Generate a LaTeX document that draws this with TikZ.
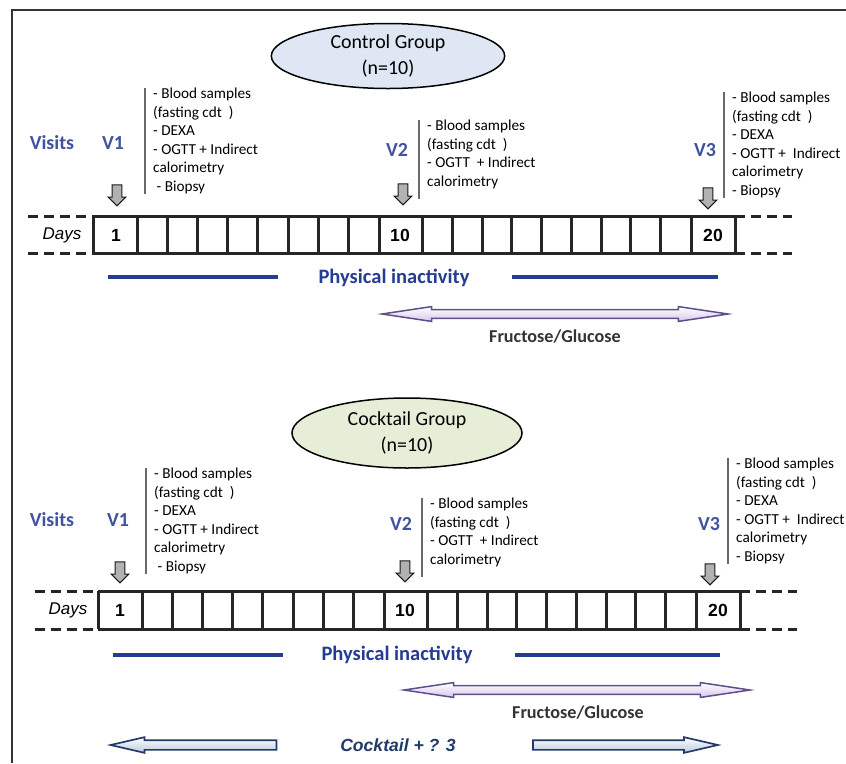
\documentclass[tikz,border=0pt]{standalone}
\usepackage{fontspec}
\setmainfont{Carlito}
\newfontfamily\arialfont{Liberation Sans}
\usepackage{tikz}
\usetikzlibrary{positioning,shapes.geometric,shapes.arrows,calc}
\definecolor{visitblue}{RGB}{64,82,160}
\definecolor{lazyblue}{RGB}{36,60,145}
\definecolor{sugarline}{RGB}{96,78,140}
\definecolor{sugarfill}{RGB}{214,200,236}
\definecolor{mixline}{RGB}{34,58,104}
\definecolor{mixfill}{RGB}{186,200,222}
\definecolor{ctrlfill}{RGB}{222,231,243}
\definecolor{cockfill}{RGB}{231,238,216}
\definecolor{bargray}{RGB}{105,105,105}
\tikzset{
  group/.style={ellipse,draw=black,line width=0.45mm,minimum width=70mm,minimum height=19.5mm,align=center,font=\fontsize{17}{22}\selectfont,inner sep=0pt},
  visitlbl/.style={text=visitblue,font=\fontsize{17}{20}\selectfont\bfseries},
  checklist/.style={anchor=north west,align=left,inner sep=0pt,font=\fontsize{13}{15.8}\selectfont},
  listbar/.style={draw=bargray,line width=0.5mm},
  downarrow/.style={single arrow,shape border rotate=270,draw=black!90,fill=gray!60,line width=0.3mm,minimum height=6.3mm,inner sep=1.3mm,single arrow head extend=1.2mm,single arrow tip angle=90},
  dayline/.style={line width=0.9mm,black!85},
  daygap/.style={line width=0.9mm,black!85,dash pattern=on 3mm off 1.8mm},
  dayname/.style={font=\arialfont\fontsize{14.5}{16}\selectfont\itshape},
  daynum/.style={font=\arialfont\fontsize{15}{16}\selectfont\bfseries},
  inactive/.style={draw=lazyblue,line width=1.2mm},
  inactlbl/.style={text=lazyblue,font=\fontsize{17.5}{20}\selectfont\bfseries},
  sugar/.style={double arrow,draw=sugarline,line width=0.45mm,top color=white,bottom color=sugarfill,inner sep=1.1mm,double arrow head extend=0.9mm,double arrow tip angle=17,minimum height=103.8mm},
  sugarlbl/.style={text=black!80,font=\fontsize{15.5}{18}\selectfont\bfseries},
  mix/.style={single arrow,draw=mixline,line width=0.5mm,top color=white,bottom color=mixfill,inner sep=1.2mm,single arrow head extend=0.9mm,single arrow tip angle=26},
  mixlbl/.style={text=mixline,font=\arialfont\fontsize{15}{18}\selectfont\bfseries\itshape}
}
\begin{document}
\begin{tikzpicture}[x=0.3mm,y=-0.3mm]
  \useasboundingbox (0,0) rectangle (846,763);
  \draw[line width=0.45mm,black!80] (12,763) -- (12,10) -- (846,10);

  % control group
  \node[group,fill=ctrlfill] (ctrl) at (388,56) {Control Group\\(n=10)};
  \node[visitlbl] (visitsA) at (52,143) {Visits};
  \node[visitlbl] (vA1) at (113,143) {V1};
  \node[visitlbl] (vA2) at (397,150) {V2};
  \node[visitlbl] (vA3) at (705,150) {V3};
  \node[checklist] (listA1) at (153,88) {- Blood samples\\(fasting cdt\ \ )\\- DEXA\\- OGTT + Indirect\\calorimetry\\\ - Biopsy};
  \node[checklist] (listA2) at (427,120) {- Blood samples\\(fasting cdt\ \ )\\- OGTT\ \ + Indirect\\calorimetry};
  \node[checklist] (listA3) at (732,92) {- Blood samples\\(fasting cdt\ \ )\\- DEXA\\- OGTT +\ \ Indirect\\calorimetry\\- Biopsy};
  \draw[listbar] ([xshift=-2.4mm]listA1.north west) -- ([xshift=-2.4mm]listA1.south west);
  \draw[listbar] ([xshift=-2.4mm]listA2.north west) -- ([xshift=-2.4mm,yshift=-3mm]listA2.south west);
  \draw[listbar] ([xshift=-2.4mm]listA3.north west) -- ([xshift=-2.4mm]listA3.south west);
  \node[downarrow] (arrA1) at (117,193) {};
  \node[downarrow] (arrA2) at (403,192) {};
  \node[downarrow] (arrA3) at (708,196) {};

  \draw[daygap] (28,216) -- (93,216);
  \draw[daygap] (28,253) -- (93,253);
  \draw[daygap] (735,216) -- (792,216);
  \draw[daygap] (735,253) -- (792,253);
  \draw[dayline] (93,216) -- (735,216);
  \draw[dayline] (93,253) -- (735,253);
  \foreach \x in {93,137,167,197,227,257,288,318,348,379,422,452,482,511,541,571,601,630,660,691,735}
    \draw[dayline] (\x,216) -- (\x,253);
  \node[dayname] (daysA) at (62,235) {Days};
  \node[daynum] (dA1) at (116,235) {1};
  \node[daynum] (dA10) at (400,235) {10};
  \node[daynum] (dA20) at (713,235) {20};

  \node[inactlbl] (lazyA) at (394,278) {Physical inactivity};
  \coordinate (lazyA1) at (108,277);
  \coordinate (lazyA2) at (278,277);
  \coordinate (lazyA3) at (512,277);
  \coordinate (lazyA4) at (718,277);
  \draw[inactive] (lazyA1) -- (lazyA2);
  \draw[inactive] (lazyA3) -- (lazyA4);
  \node[sugar] (sugarA) at (555,314) {};
  \node[sugarlbl] (sugarlblA) at (555,337) {Fructose/Glucose};

  % cocktail group
  \node[group,fill=cockfill,minimum width=69mm,minimum height=21mm] (cock) at (407,433) {Cocktail Group\\(n=10)};
  \node[visitlbl] (visitsB) at (52,520) {Visits};
  \node[visitlbl] (vB1) at (118,520) {V1};
  \node[visitlbl] (vB2) at (401,524) {V2};
  \node[visitlbl] (vB3) at (709,524) {V3};
  \node[checklist] (listB1) at (154,468) {- Blood samples\\(fasting cdt\ \ )\\- DEXA\\- OGTT + Indirect\\calorimetry\\\ - Biopsy};
  \node[checklist] (listB2) at (430,498) {- Blood samples\\(fasting cdt\ \ )\\- OGTT\ \ + Indirect\\calorimetry};
  \node[checklist] (listB3) at (736,458) {- Blood samples\\(fasting cdt\ \ )\\- DEXA\\- OGTT +\ \ Indirect\\calorimetry\\- Biopsy};
  \draw[listbar] ([xshift=-2.4mm]listB1.north west) -- ([xshift=-2.4mm]listB1.south west);
  \draw[listbar] ([xshift=-2.4mm]listB2.north west) -- ([xshift=-2.4mm,yshift=-3mm]listB2.south west);
  \draw[listbar] ([xshift=-2.4mm]listB3.north west) -- ([xshift=-2.4mm]listB3.south west);
  \node[downarrow] (arrB1) at (120,570) {};
  \node[downarrow] (arrB2) at (405,569) {};
  \node[downarrow] (arrB3) at (710,572) {};

  \draw[daygap] (35,591) -- (98,591);
  \draw[daygap] (35,629) -- (98,629);
  \draw[daygap] (740,591) -- (797,591);
  \draw[daygap] (740,629) -- (797,629);
  \draw[dayline] (98,591) -- (740,591);
  \draw[dayline] (98,629) -- (740,629);
  \foreach \x in {98,142,172,202,232,262,293,323,353,384,427,457,487,516,546,576,606,635,665,696,740}
    \draw[dayline] (\x,591) -- (\x,629);
  \node[dayname] (daysB) at (68,610) {Days};
  \node[daynum] (dB1) at (120,610) {1};
  \node[daynum] (dB10) at (405,610) {10};
  \node[daynum] (dB20) at (718,610) {20};

  \node[inactlbl] (lazyB) at (397,655) {Physical inactivity};
  \coordinate (lazyB1) at (113,655);
  \coordinate (lazyB2) at (283,655);
  \coordinate (lazyB3) at (515,655);
  \coordinate (lazyB4) at (720,655);
  \draw[inactive] (lazyB1) -- (lazyB2);
  \draw[inactive] (lazyB3) -- (lazyB4);
  \node[sugar] (sugarB) at (577,690) {};
  \node[sugarlbl] (sugarlblB) at (578,713) {Fructose/Glucose};

  \node[mixlbl] (mixlbl) at (398,745) {Cocktail + ? 3};
  \node[mix,shape border rotate=180,minimum height=49.8mm] (mixL) at (204,745) {};
  \node[mix,minimum height=55.5mm] (mixR) at (615,745) {};
\end{tikzpicture}
\end{document}
